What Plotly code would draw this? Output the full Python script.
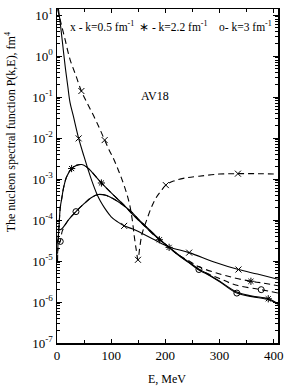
import plotly.graph_objects as go

# ---------------- data ----------------
E_s05 = [1, 3, 6, 10, 15, 20, 24, 30, 40, 50, 58, 65, 73, 80, 88, 100, 112, 124, 140, 160, 180, 207, 244, 290, 335, 370, 408]
P_s05 = [25, 13, 6.4, 2.2, 0.57, 0.18, 0.074, 0.035, 0.0098, 3.5e-3, 1.6e-3, 8.5e-4, 4.5e-4, 2.9e-4, 1.95e-4,
         1.2e-4, 9e-5, 7.2e-5, 6e-5, 4.5e-5, 3.3e-5, 2.2e-5, 1.6e-5, 9.5e-6, 6.2e-6, 4.8e-6, 3.6e-6]

E_d05 = [1, 5, 10, 15, 24, 35, 45, 57, 70, 80, 88, 96, 104, 112, 119, 127, 134, 139, 143, 146.5, 149.5,
         152.5, 156, 160, 165, 174, 183, 192, 201, 215, 235, 262, 300, 334, 370, 408]
P_d05 = [14, 8.5, 4.6, 2.5, 0.83, 0.33, 0.14, 0.066, 0.03, 0.0155, 0.0089, 5.2e-3, 3.2e-3, 1.8e-3, 1.05e-3,
         5.2e-4, 2.4e-4, 1e-4, 3.7e-5, 1.8e-5, 1.07e-5, 2e-5, 4e-5, 6.3e-5, 9.5e-5, 2e-4, 3.5e-4, 5.1e-4,
         7.1e-4, 8.9e-4, 1.05e-3, 1.17e-3, 1.32e-3, 1.35e-3, 1.35e-3, 1.32e-3]

E_s22 = [1.5, 2, 4, 6, 9, 12, 18, 27, 36, 46, 55, 64, 82, 103, 125, 140, 158, 180, 207, 225, 244, 262, 274,
         299, 332, 360, 390, 408]
P_s22 = [2.5e-5, 3.1e-5, 8e-5, 2e-4, 3.5e-4, 6e-4, 1.15e-3, 1.8e-3, 2.15e-3, 2.25e-3, 1.95e-3, 1.5e-3, 8e-4,
         4.2e-4, 2.2e-4, 1.35e-4, 8e-5, 4.2e-5, 2.15e-5, 1.4e-5, 9.3e-6, 6.3e-6, 5.2e-6, 3.3e-6, 1.75e-6,
         1.4e-6, 1.2e-6, 9.1e-7]

E_s30 = [1, 3, 7, 12, 21, 35, 50, 63, 76, 90, 104, 120, 137, 150, 165, 185, 207, 225, 244, 262, 274, 299,
         332, 360, 390, 408]
P_s30 = [6e-5, 5.8e-5, 5.9e-5, 6.8e-5, 1e-4, 1.6e-4, 2.5e-4, 3.5e-4, 4.2e-4, 4e-4, 3.3e-4, 2.4e-4, 1.6e-4,
         1.05e-4, 6.8e-5, 3.8e-5, 2.15e-5, 1.35e-5, 9e-6, 6e-6, 5e-6, 3.2e-6, 1.65e-6, 1.35e-6, 1.15e-6, 8.8e-7]

E_d22 = [1, 2, 4, 6, 9, 12, 18, 27, 36, 46, 55, 64, 82, 103, 125, 140, 158, 180, 207, 225, 244, 262, 299,
         330, 358, 380, 408]
P_d22 = [1e-5, 3.1e-5, 8e-5, 2e-4, 3.5e-4, 6e-4, 1.15e-3, 1.8e-3, 2.15e-3, 2.25e-3, 1.95e-3, 1.5e-3, 8e-4,
         4.2e-4, 2.2e-4, 1.35e-4, 8e-5, 4.2e-5, 2.15e-5, 1.38e-5, 1e-5, 7.2e-6, 4.9e-6, 3.8e-6, 3.2e-6,
         2.9e-6, 2.5e-6]

E_d30 = [1, 3, 6, 10, 21, 35, 50, 63, 76, 90, 104, 120, 137, 150, 165, 185, 207, 225, 244, 262, 299, 330,
         377, 408]
P_d30 = [1.5e-5, 2.5e-5, 3e-5, 5.5e-5, 1e-4, 1.6e-4, 2.5e-4, 3.5e-4, 4.2e-4, 4e-4, 3.3e-4, 2.4e-4, 1.6e-4,
         1.05e-4, 6.8e-5, 3.8e-5, 2.15e-5, 1.37e-5, 9.2e-6, 6.2e-6, 3.8e-6, 2.6e-6, 2e-6, 1.65e-6]

# marker positions along the curves
mE_s05 = [40, 124, 244, 335]
mP_s05 = [0.0098, 7.2e-5, 1.6e-5, 6.2e-6]
mE_d05 = [45, 88, 149.5, 201, 334]
mP_d05 = [0.14, 0.0089, 1.07e-5, 7.1e-4, 1.35e-3]
mE_s22 = [27, 82, 207, 390]
mP_s22 = [1.8e-3, 8e-4, 2.15e-5, 1.2e-6]
mE_s30 = [35, 332]
mP_s30 = [1.6e-4, 1.65e-6]
mE_d22 = [189, 358]
mP_d22 = [3.3e-5, 3.2e-6]
mE_d30 = [6, 262, 377]
mP_d30 = [3e-5, 6.2e-6, 2e-6]

x_ticks = [0, 100, 200, 300, 400]
y_exponents = [1, 0, -1, -2, -3, -4, -5, -6, -7]

FONT = "Liberation Serif"
DASH = "6px,4px"

fig = go.Figure()

def line(E, P, dash):
    fig.add_trace(go.Scatter(x=E, y=P, mode="lines", line=dict(color="black", width=1.1, dash=dash),
                             line_shape="spline", hoverinfo="skip", showlegend=False))

def marks(E, P, sym):
    fig.add_trace(go.Scatter(x=E, y=P, mode="markers", cliponaxis=False,
                             marker=dict(symbol=sym, size=6, color="black", line=dict(color="black", width=1)),
                             hoverinfo="skip", showlegend=False))

line(E_s05, P_s05, "solid")
line(E_d05, P_d05, DASH)
line(E_s22, P_s22, "solid")
line(E_s30, P_s30, "solid")
line(E_d22, P_d22, DASH)
line(E_d30, P_d30, DASH)

marks(mE_s05, mP_s05, "x-thin-open")
marks(mE_d05, mP_d05, "x-thin-open")
marks(mE_s22, mP_s22, "asterisk-open")
marks(mE_d22, mP_d22, "asterisk-open")
marks(mE_s30, mP_s30, "circle-open")
marks(mE_d30, mP_d30, "circle-open")

fig.update_layout(
    width=289, height=388,
    margin=dict(l=57, r=9, t=6, b=45),
    paper_bgcolor="white", plot_bgcolor="white",
    font=dict(family=FONT, size=12, color="black"),
    showlegend=False,
)

fig.update_xaxes(
    range=[0, 408], tickmode="array", tickvals=x_ticks, ticktext=[str(v) for v in x_ticks],
    ticks="inside", ticklen=4, tickwidth=1, tickcolor="black",
    minor=dict(ticks="inside", ticklen=3, dtick=50, tick0=0, tickcolor="black", showgrid=False),
    showline=True, linecolor="black", linewidth=1.5, mirror="ticks",
    showgrid=False, zeroline=False, tickfont=dict(family=FONT, size=13),
)
fig.update_yaxes(
    type="log", range=[-7, 1.147],
    tickmode="array", tickvals=[10.0 ** e for e in y_exponents],
    ticktext=["10<sup>%s</sup>" % (str(e) if e >= 0 else "-%d" % (-e)) for e in y_exponents],
    ticks="inside", ticklen=5, tickwidth=1, tickcolor="black",
    minor=dict(ticks="inside", ticklen=3, dtick="D1", tickcolor="black", showgrid=False),
    showline=True, linecolor="black", linewidth=1.5, mirror="ticks",
    showgrid=False, zeroline=False, tickfont=dict(family=FONT, size=13),
)

ann = dict(showarrow=False, font=dict(family=FONT, size=11.5, color="black"))
fig.add_annotation(text="x - k=0.5 fm<sup>-1</sup>", xref="paper", yref="paper",
                   x=(68 - 57) / 223, y=(343 - 23) / 337, xanchor="left", yanchor="middle", **ann)
fig.add_annotation(text="\u2217 - k=2.2 fm<sup>-1</sup>", xref="paper", yref="paper",
                   x=(138 - 57) / 223, y=(343 - 23) / 337, xanchor="left", yanchor="middle", **ann)
fig.add_annotation(text="o- k=3 fm<sup>-1</sup>", xref="paper", yref="paper",
                   x=(218 - 57) / 223, y=(343 - 23) / 337, xanchor="left", yanchor="middle", **ann)
fig.add_annotation(text="AV18", xref="paper", yref="paper",
                   x=(156 - 57) / 223, y=(343 - 94) / 337, xanchor="center", yanchor="middle",
                   showarrow=False, font=dict(family=FONT, size=12, color="black"))
fig.add_annotation(text="E, MeV", xref="paper", yref="paper",
                   x=(168 - 57) / 223, y=(343 - 379) / 337, xanchor="center", yanchor="middle",
                   showarrow=False, font=dict(family=FONT, size=12, color="black"))
fig.add_annotation(text="The nucleon spectral function P(k,E), fm<sup>4</sup>", xref="paper", yref="paper",
                   x=(10 - 57) / 223, y=(343 - 130) / 337, xanchor="center", yanchor="middle",
                   textangle=-90, showarrow=False, font=dict(family=FONT, size=12, color="black"))

fig.write_html("out.html", config={"displayModeBar": False, "staticPlot": True})

# remove the default page margin so the figure sits at the window's top-left corner
with open("out.html", "r", encoding="utf-8") as f:
    html = f.read()
html = html.replace("<head>", "<head><style>html,body{margin:0;padding:0;overflow:hidden;}</style>", 1)
with open("out.html", "w", encoding="utf-8") as f:
    f.write(html)
